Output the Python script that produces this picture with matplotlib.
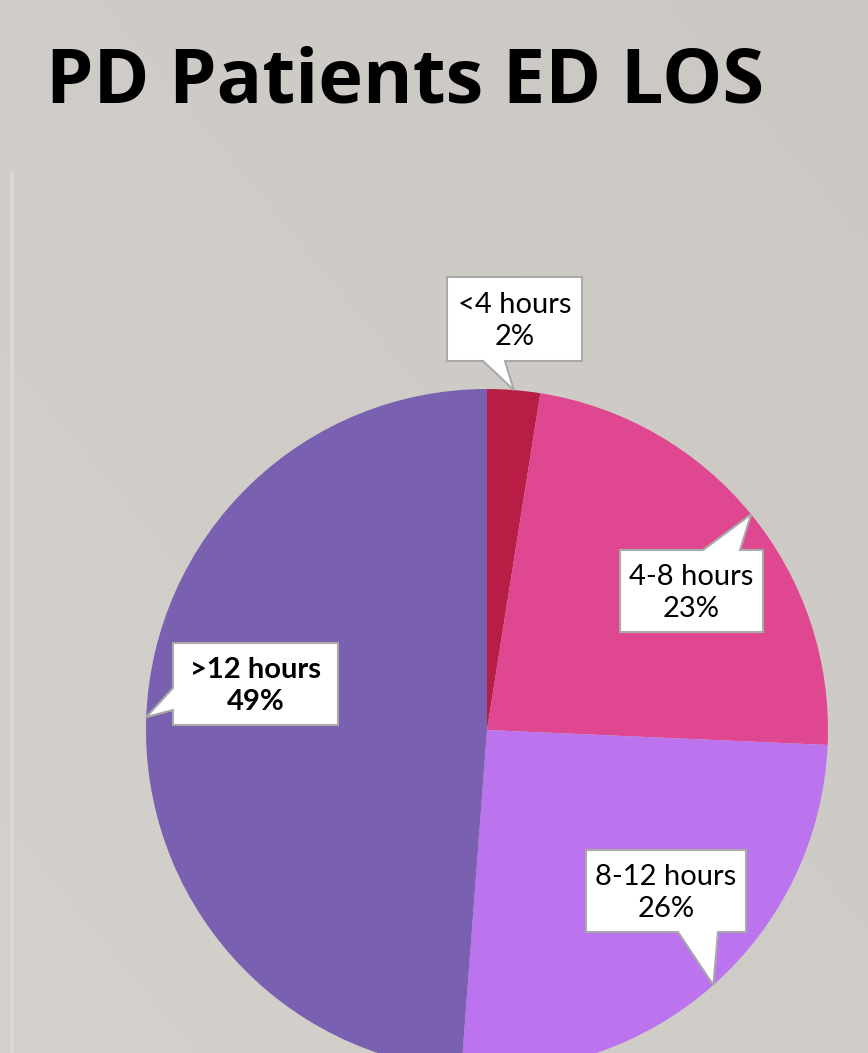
import numpy as np
import matplotlib
matplotlib.use("Agg")
import matplotlib.pyplot as plt
from matplotlib.patches import Polygon

# data
categories = ["<4 hours", "4-8 hours", "8-12 hours", ">12 hours"]
shares = [2.5, 23.2, 25.5, 48.8]          # wedge sizes
pct_labels = ["2%", "23%", "26%", "49%"]
colors = ["#B81E45", "#DF4890", "#BB73EE", "#7960B0"]

W, H = 868, 1053
fig = plt.figure(figsize=(W / 100, H / 100), dpi=100)
fig.patch.set_facecolor("#D0CDC8")
ax = fig.add_axes([0, 0, 1, 1])
ax.set_facecolor("#D0CDC8")

# subtle background gradient
gy, gx = np.mgrid[0:1:200j, 0:1:200j]
grad = 0.5 * (gx + (1 - gy))
bg = np.zeros((200, 200, 3))
c0 = np.array([212, 209, 204]) / 255
c1 = np.array([203, 200, 195]) / 255
for k in range(3):
    bg[..., k] = c0[k] + (c1[k] - c0[k]) * grad
ax.imshow(bg, extent=[0, W, 0, H], origin="upper", zorder=0, aspect="auto")

cx, cy, R = 487, H - 730, 341
wedges, _ = ax.pie(shares, colors=colors, startangle=90, counterclock=False,
                   center=(cx, cy), radius=R,
                   wedgeprops=dict(linewidth=0))
for w in wedges:
    w.set_zorder(2)

ax.set_xlim(0, W)
ax.set_ylim(0, H)
ax.set_aspect("equal")
ax.axis("off")

# left accent line
ax.plot([12, 12], [H - 172, 0], color="#DAD8D4", lw=3, zorder=1,
        solid_capstyle="butt")

# title
fig.text(46 / W, 1 - 83 / H, "PD Patients ED LOS", fontsize=54.5,
         fontweight="bold", family="Open Sans", va="center", ha="left")

# callout boxes: (x0, y0, x1, y1) in pixel coords, pointer base side/pos
boxes = [
    ((447, 277, 582, 361), "bottom", (483, 505)),
    ((620, 550, 763, 632), "top", (703, 740)),
    ((586, 850, 746, 932), "bottom", (678, 718)),
    ((173, 643, 338, 725), "left", (688, 710)),
]

for i, (w, (box, side, base)) in enumerate(zip(wedges, boxes)):
    mid = np.deg2rad((w.theta1 + w.theta2) / 2)
    tx = cx + R * np.cos(mid)
    ty = cy + R * np.sin(mid)
    x0, y0, x1, y1 = box
    Y0, Y1 = H - y0, H - y1
    if side == "bottom":
        pts = [(x0, Y0), (x1, Y0), (x1, Y1), (base[1], Y1), (tx, ty),
               (base[0], Y1), (x0, Y1)]
    elif side == "top":
        pts = [(x0, Y0), (base[0], Y0), (tx, ty), (base[1], Y0), (x1, Y0),
               (x1, Y1), (x0, Y1)]
    else:
        pts = [(x0, Y0), (x1, Y0), (x1, Y1), (x0, Y1), (x0, H - base[1]),
               (tx, ty), (x0, H - base[0])]
    ax.add_patch(Polygon(pts, closed=True, facecolor="white",
                         edgecolor="#A9A9A9", lw=1.5, zorder=3,
                         joinstyle="miter"))
    bold = categories[i] == ">12 hours"
    ax.text((x0 + x1) / 2, (Y0 + Y1) / 2 - 2,
            categories[i] + "\n" + pct_labels[i],
            ha="center", va="center", fontsize=21, family="Lato",
            fontweight="bold" if bold else "normal", linespacing=1.3,
            zorder=4)

fig.savefig("out.png", dpi=100, facecolor=fig.get_facecolor())
